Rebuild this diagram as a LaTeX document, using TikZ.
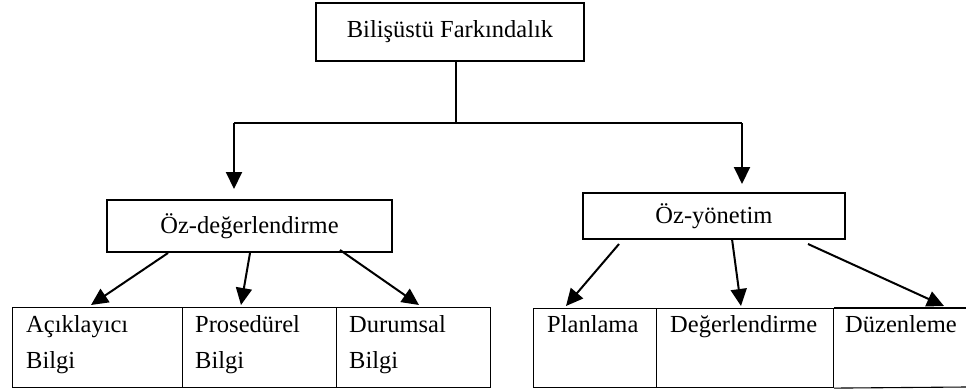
\documentclass[tikz,border=0pt]{standalone}
\usepackage{fontspec}
\setmainfont{Liberation Serif}
\usetikzlibrary{arrows.meta}
\begin{document}
\begin{tikzpicture}[x=1pt,y=-1pt,
  every node/.style={font=\fontsize{24.5}{28}\selectfont},
  box/.style={draw, line width=1.1pt, inner sep=0pt},
  cell/.style={draw, line width=1.1pt, inner sep=0pt, anchor=north west},
  lbl/.style={inner sep=0pt, anchor=base west},
  conn/.style={line width=1.4pt},
  arr/.style={line width=2pt, -{Triangle[length=17pt,width=16pt]}}]
\useasboundingbox (0,0) rectangle (966,389);
% top
\node[box, minimum width=268pt, minimum height=58pt] (top) at (450,32) {Bilişüstü Farkındalık};
\coordinate (j) at (456,123);
\coordinate (hl) at (234,123);
\coordinate (hr) at (742,123);
\draw[conn] (top.south -| j) -- (j);
\draw[conn] (hl) -- (hr);
\coordinate (tl) at (234,189);
\coordinate (tr) at (742,184);
\draw[arr] (hl) -- (tl);
\draw[arr] (hr) -- (tr);
% middle
\node[box, minimum width=285pt, minimum height=52pt] (sd) at (249.5,226) {Öz-değerlendirme};
\node[box, minimum width=262pt, minimum height=46pt] (sy) at (714,216) {Öz-yönetim};
% bottom left cells
\node[cell, minimum width=170pt, minimum height=80pt] (c1) at (12,307) {};
\node[cell, minimum width=154pt, minimum height=80pt] (c2) at (182,307) {};
\node[cell, minimum width=154pt, minimum height=80pt] (c3) at (336,307) {};
\node[lbl] (t1a) at (26,332) {Açıklayıcı};
\node[lbl] (t1b) at (26,368) {Bilgi};
\node[lbl] (t2a) at (195,332) {Prosedürel};
\node[lbl] (t2b) at (195,368) {Bilgi};
\node[lbl] (t3a) at (349,332) {Durumsal};
\node[lbl] (t3b) at (349,368) {Bilgi};
% bottom right cells
\node[cell, minimum width=123pt, minimum height=79pt] (d1) at (533,308) {};
\node[cell, minimum width=177pt, minimum height=79pt] (d2) at (656,308) {};
\coordinate (d3tr) at (966,308);
\coordinate (d3br) at (966,387);
\draw[line width=1.1pt] (d2.north east) -- (d3tr);
\draw[line width=1.1pt] (d2.south east) -- (d3br);
\node[lbl] (u1) at (547,332) {Planlama};
\node[lbl] (u2) at (670,332) {Değerlendirme};
\node[lbl] (u3) at (845,332) {Düzenleme};
% arrows left
\coordinate (a1s) at (168,253); \coordinate (a1e) at (91,305);
\coordinate (a2s) at (250,253); \coordinate (a2e) at (241,305);
\coordinate (a3s) at (340,250); \coordinate (a3e) at (419,305);
\draw[arr] (a1s) -- (a1e);
\draw[arr] (a2s) -- (a2e);
\draw[arr] (a3s) -- (a3e);
% arrows right
\coordinate (b1s) at (619,244); \coordinate (b1e) at (566,306);
\coordinate (b2s) at (732,239); \coordinate (b2e) at (741,306);
\coordinate (b3s) at (808,244); \coordinate (b3e) at (944,306);
\draw[arr] (b1s) -- (b1e);
\draw[arr] (b2s) -- (b2e);
\draw[arr] (b3s) -- (b3e);
\end{tikzpicture}
\end{document}
